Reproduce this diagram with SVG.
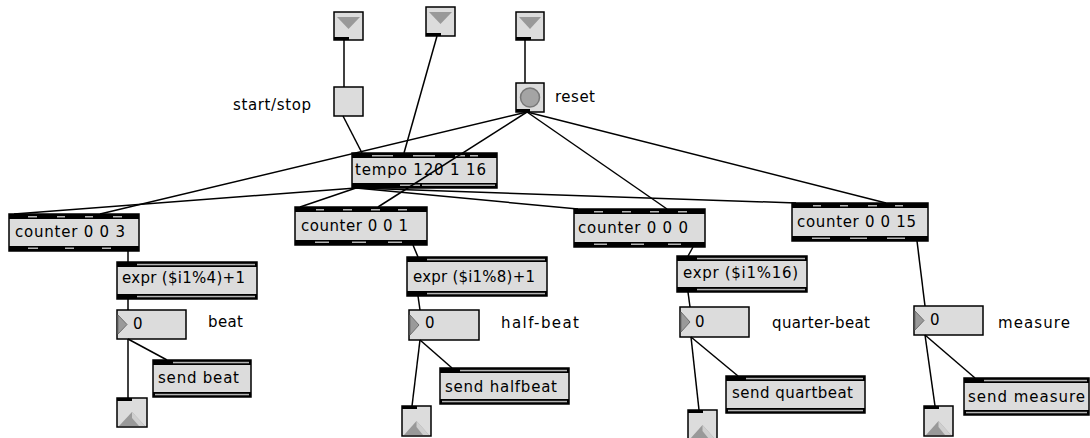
<svg xmlns="http://www.w3.org/2000/svg" width="1090" height="438" viewBox="0 0 1090 438">
  <style>
    .bg { fill: #ffffff; }
    .box { fill: #dcdcdc; stroke: #000; stroke-width: 1.5; }
    .band { fill: #000; }
    .gap { fill: #b4b4b4; }
    .port { fill: #000; }
    .tri { fill: #9a9a9a; stroke: #6e6e6e; stroke-width: 1; }
    .cone { fill: #999999; }
    .cone2 { fill: #cfcfcf; }
    .dot { fill: #a4a4a4; stroke: #787878; stroke-width: 1.5; }
    .cord { stroke: #000; stroke-width: 1.5; fill: none; }
    text { font-family: "DejaVu Sans", "Liberation Sans", Arial, sans-serif; font-size: 15px; fill: #000; }
  </style>

  <rect class="bg" x="0" y="0" width="1090" height="438"/>

  <!-- inlets at the top of the patcher -->
  <g id="inlet1">
    <rect class="box" x="334" y="12" width="29" height="28"/>
    <polygon class="cone" points="337,17 360,17 348.5,29"/>
    <rect class="port" x="334" y="37" width="15" height="3"/>
  </g>
  <g id="inlet2">
    <rect class="box" x="426" y="7" width="29" height="29"/>
    <polygon class="cone" points="429,12 452,12 440.5,24"/>
    <rect class="port" x="426" y="33" width="15" height="3"/>
  </g>
  <g id="inlet3">
    <rect class="box" x="516" y="12" width="28" height="28"/>
    <polygon class="cone" points="519,17 541,17 530,29"/>
    <rect class="port" x="516" y="37" width="15" height="3"/>
  </g>

  <!-- toggle and reset button -->
  <g id="toggle">
    <rect class="box" x="334" y="87" width="29" height="29"/>
    <text x="233" y="110" textLength="78" lengthAdjust="spacing">start/stop</text>
  </g>
  <g id="reset">
    <rect class="box" x="516" y="83" width="28" height="29"/>
    <circle class="dot" cx="530" cy="97.5" r="9.5"/>
    <rect class="port" x="516" y="109" width="14" height="3"/>
    <text x="555" y="102" textLength="40" lengthAdjust="spacing">reset</text>
  </g>

  <!-- tempo 120 1 16 -->
  <g id="tempo">
    <rect class="box" x="352" y="153" width="145" height="35"/>
    <rect class="band" x="352" y="153" width="145" height="5"/>
    <rect class="gap" x="372" y="155" width="21" height="1.5"/>
    <rect class="gap" x="413" y="155" width="22" height="1.5"/>
    <rect class="gap" x="455" y="155" width="10" height="1.5"/>
    <rect class="gap" x="470" y="155" width="8" height="1.5"/>
    <rect class="band" x="352" y="183" width="145" height="5"/>
    <rect class="gap" x="400" y="184.5" width="20" height="1.5"/>
    <rect class="gap" x="422" y="184.5" width="73" height="1.5"/>
    <text x="355" y="175" textLength="131" lengthAdjust="spacing">tempo 120 1 16</text>
  </g>

  <!-- counters -->
  <g id="counter3">
    <rect class="box" x="9" y="214" width="130" height="37"/>
    <rect class="band" x="9" y="214" width="130" height="5"/>
    <rect class="gap" x="28" y="216" width="9" height="1.5"/>
    <rect class="gap" x="57" y="216" width="8" height="1.5"/>
    <rect class="gap" x="85" y="216" width="8" height="1.5"/>
    <rect class="gap" x="113" y="216" width="9" height="1.5"/>
    <rect class="band" x="9" y="246" width="130" height="5"/>
    <rect class="gap" x="28" y="247.5" width="10" height="1.5"/>
    <rect class="gap" x="65" y="247.5" width="9" height="1.5"/>
    <rect class="gap" x="102" y="247.5" width="9" height="1.5"/>
    <text x="15" y="237" textLength="110" lengthAdjust="spacing">counter 0 0 3</text>
  </g>
  <g id="counter1">
    <rect class="box" x="295" y="207" width="132" height="38"/>
    <rect class="band" x="295" y="207" width="132" height="5"/>
    <rect class="gap" x="316" y="209" width="8" height="1.5"/>
    <rect class="gap" x="343" y="209" width="9" height="1.5"/>
    <rect class="gap" x="371" y="209" width="9" height="1.5"/>
    <rect class="gap" x="398" y="209" width="9" height="1.5"/>
    <rect class="band" x="295" y="240" width="132" height="5"/>
    <rect class="gap" x="315" y="241.5" width="14" height="1.5"/>
    <rect class="gap" x="352" y="241.5" width="14" height="1.5"/>
    <rect class="gap" x="388" y="241.5" width="14" height="1.5"/>
    <text x="301" y="231" textLength="107" lengthAdjust="spacing">counter 0 0 1</text>
  </g>
  <g id="counter0">
    <rect class="box" x="574" y="209" width="131" height="38"/>
    <rect class="band" x="574" y="209" width="131" height="5"/>
    <rect class="gap" x="594" y="211" width="9" height="1.5"/>
    <rect class="gap" x="622" y="211" width="9" height="1.5"/>
    <rect class="gap" x="650" y="211" width="9" height="1.5"/>
    <rect class="gap" x="678" y="211" width="9" height="1.5"/>
    <rect class="band" x="574" y="242" width="131" height="5"/>
    <rect class="gap" x="594" y="243.5" width="13" height="1.5"/>
    <rect class="gap" x="631" y="243.5" width="13" height="1.5"/>
    <rect class="gap" x="668" y="243.5" width="13" height="1.5"/>
    <text x="578" y="233" textLength="110" lengthAdjust="spacing">counter 0 0 0</text>
  </g>
  <g id="counter15">
    <rect class="box" x="792" y="203" width="136" height="38"/>
    <rect class="band" x="792" y="203" width="136" height="5"/>
    <rect class="gap" x="813" y="205" width="8" height="1.5"/>
    <rect class="gap" x="840" y="205" width="8" height="1.5"/>
    <rect class="gap" x="868" y="205" width="9" height="1.5"/>
    <rect class="gap" x="895" y="205" width="8" height="1.5"/>
    <rect class="band" x="792" y="236" width="136" height="5"/>
    <rect class="gap" x="812" y="237.5" width="18" height="1.5"/>
    <rect class="gap" x="850" y="237.5" width="17" height="1.5"/>
    <rect class="gap" x="887" y="237.5" width="18" height="1.5"/>
    <text x="797" y="227" textLength="119" lengthAdjust="spacing">counter 0 0 15</text>
  </g>

  <!-- expr objects -->
  <g id="expr4">
    <rect class="box" x="117" y="262" width="140" height="37"/>
    <rect class="band" x="117" y="262" width="140" height="5"/>
    <rect class="gap" x="137" y="263.8" width="118" height="1.5"/>
    <rect class="band" x="117" y="294" width="140" height="5"/>
    <rect class="gap" x="137" y="295.8" width="118" height="1.5"/>
    <text x="122" y="283" textLength="123" lengthAdjust="spacing">expr ($i1%4)+1</text>
  </g>
  <g id="expr8">
    <rect class="box" x="407" y="257" width="140" height="39"/>
    <rect class="band" x="407" y="257" width="140" height="5"/>
    <rect class="gap" x="427" y="258.8" width="118" height="1.5"/>
    <rect class="band" x="407" y="291" width="140" height="5"/>
    <rect class="gap" x="427" y="292.8" width="118" height="1.5"/>
    <text x="413" y="282" textLength="122" lengthAdjust="spacing">expr ($i1%8)+1</text>
  </g>
  <g id="expr16">
    <rect class="box" x="677" y="256" width="130" height="36"/>
    <rect class="band" x="677" y="256" width="130" height="5"/>
    <rect class="gap" x="697" y="257.8" width="108" height="1.5"/>
    <rect class="band" x="677" y="287" width="130" height="5"/>
    <rect class="gap" x="697" y="288.8" width="108" height="1.5"/>
    <text x="683" y="278" textLength="115" lengthAdjust="spacing">expr ($i1%16)</text>
  </g>

  <!-- number boxes with their labels -->
  <g id="num-beat">
    <rect class="box" x="117" y="310" width="69" height="29"/>
    <polygon class="tri" points="118,315 127,324.5 118,334"/>
    <text x="133" y="329">0</text>
    <text x="208" y="327" textLength="35" lengthAdjust="spacing">beat</text>
  </g>
  <g id="num-halfbeat">
    <rect class="box" x="409" y="310" width="70" height="30"/>
    <polygon class="tri" points="410,315 419,325 410,335"/>
    <text x="425" y="328">0</text>
    <text x="501" y="328" textLength="78" lengthAdjust="spacing">half-beat</text>
  </g>
  <g id="num-quartbeat">
    <rect class="box" x="680" y="307" width="69" height="30"/>
    <polygon class="tri" points="681,312 690,322 681,332"/>
    <text x="695" y="327">0</text>
    <text x="772" y="328" textLength="98" lengthAdjust="spacing">quarter-beat</text>
  </g>
  <g id="num-measure">
    <rect class="box" x="914" y="306" width="69" height="29"/>
    <polygon class="tri" points="915,311 924,320.5 915,330"/>
    <text x="930" y="325">0</text>
    <text x="998" y="328" textLength="72" lengthAdjust="spacing">measure</text>
  </g>

  <!-- send objects -->
  <g id="send-beat">
    <rect class="box" x="153" y="360" width="98" height="37"/>
    <rect class="band" x="153" y="360" width="98" height="5"/>
    <rect class="gap" x="173" y="361.8" width="76" height="1.5"/>
    <rect class="band" x="153" y="392" width="98" height="5"/>
    <rect class="gap" x="155" y="393.8" width="94" height="1.5"/>
    <text x="158" y="383" textLength="81" lengthAdjust="spacing">send beat</text>
  </g>
  <g id="send-halfbeat">
    <rect class="box" x="440" y="368" width="129" height="36"/>
    <rect class="band" x="440" y="368" width="129" height="5"/>
    <rect class="gap" x="460" y="369.8" width="107" height="1.5"/>
    <rect class="band" x="440" y="399" width="129" height="5"/>
    <rect class="gap" x="442" y="400.8" width="125" height="1.5"/>
    <text x="445" y="392" textLength="112" lengthAdjust="spacing">send halfbeat</text>
  </g>
  <g id="send-quartbeat">
    <rect class="box" x="726" y="376" width="139" height="37"/>
    <rect class="band" x="726" y="376" width="139" height="5"/>
    <rect class="gap" x="746" y="377.8" width="117" height="1.5"/>
    <rect class="band" x="726" y="408" width="139" height="5"/>
    <rect class="gap" x="728" y="409.8" width="135" height="1.5"/>
    <text x="732" y="398" textLength="121" lengthAdjust="spacing">send quartbeat</text>
  </g>
  <g id="send-measure">
    <rect class="box" x="964" y="378" width="125" height="37"/>
    <rect class="band" x="964" y="378" width="125" height="5"/>
    <rect class="gap" x="984" y="379.8" width="103" height="1.5"/>
    <rect class="band" x="964" y="410" width="125" height="5"/>
    <rect class="gap" x="966" y="411.8" width="121" height="1.5"/>
    <text x="968" y="402" textLength="117" lengthAdjust="spacing">send measure</text>
  </g>

  <!-- outlets at the bottom of the patcher -->
  <g id="outlet1">
    <rect class="box" x="117" y="398" width="30" height="29"/>
    <polygon class="cone" points="119,426 132,412 145,426"/>
    <polygon class="cone2" points="132,412 145,426 139,426 132,418"/>
    <rect class="port" x="117" y="398" width="15" height="3"/>
  </g>
  <g id="outlet2">
    <rect class="box" x="402" y="406" width="29" height="30"/>
    <polygon class="cone" points="404,435 416.5,421 429,435"/>
    <polygon class="cone2" points="416.5,421 429,435 423,435 416.5,427"/>
    <rect class="port" x="402" y="406" width="15" height="3"/>
  </g>
  <g id="outlet3">
    <rect class="box" x="688" y="410" width="29" height="29"/>
    <polygon class="cone" points="690,439 702.5,425 715,439"/>
    <polygon class="cone2" points="702.5,425 715,439 709,439 702.5,431"/>
    <rect class="port" x="688" y="410" width="15" height="3"/>
  </g>
  <g id="outlet4">
    <rect class="box" x="924" y="406" width="29" height="30"/>
    <polygon class="cone" points="926,435 938.5,421 951,435"/>
    <polygon class="cone2" points="938.5,421 951,435 945,435 938.5,427"/>
    <rect class="port" x="924" y="406" width="15" height="3"/>
  </g>

  <!-- patch cords -->
  <g id="cords">
    <line class="cord" x1="344" y1="40" x2="344" y2="87"/>
    <line class="cord" x1="437" y1="36" x2="404" y2="153"/>
    <line class="cord" x1="525" y1="40" x2="525" y2="83"/>
    <line class="cord" x1="343" y1="116" x2="362" y2="153"/>
    <line class="cord" x1="527" y1="112" x2="100" y2="214"/>
    <line class="cord" x1="527" y1="112" x2="378" y2="207"/>
    <line class="cord" x1="527" y1="112" x2="667" y2="209"/>
    <line class="cord" x1="527" y1="112" x2="886" y2="203"/>
    <line class="cord" x1="356" y1="188" x2="14" y2="214"/>
    <line class="cord" x1="356" y1="188" x2="300" y2="207"/>
    <line class="cord" x1="356" y1="188" x2="578" y2="209"/>
    <line class="cord" x1="356" y1="188" x2="796" y2="203"/>
    <line class="cord" x1="128" y1="251" x2="128" y2="262"/>
    <line class="cord" x1="413" y1="245" x2="418" y2="257"/>
    <line class="cord" x1="693" y1="247" x2="688" y2="256"/>
    <line class="cord" x1="917" y1="241" x2="925" y2="306"/>
    <line class="cord" x1="128" y1="299" x2="128" y2="310"/>
    <line class="cord" x1="418" y1="296" x2="420" y2="310"/>
    <line class="cord" x1="688" y1="292" x2="690" y2="307"/>
    <line class="cord" x1="128" y1="339" x2="128" y2="398"/>
    <line class="cord" x1="128" y1="339" x2="167" y2="360"/>
    <line class="cord" x1="420" y1="340" x2="412" y2="406"/>
    <line class="cord" x1="420" y1="340" x2="452" y2="368"/>
    <line class="cord" x1="691" y1="337" x2="699" y2="410"/>
    <line class="cord" x1="691" y1="337" x2="738" y2="376"/>
    <line class="cord" x1="925" y1="335" x2="935" y2="406"/>
    <line class="cord" x1="925" y1="335" x2="975" y2="378"/>
  </g>
</svg>
